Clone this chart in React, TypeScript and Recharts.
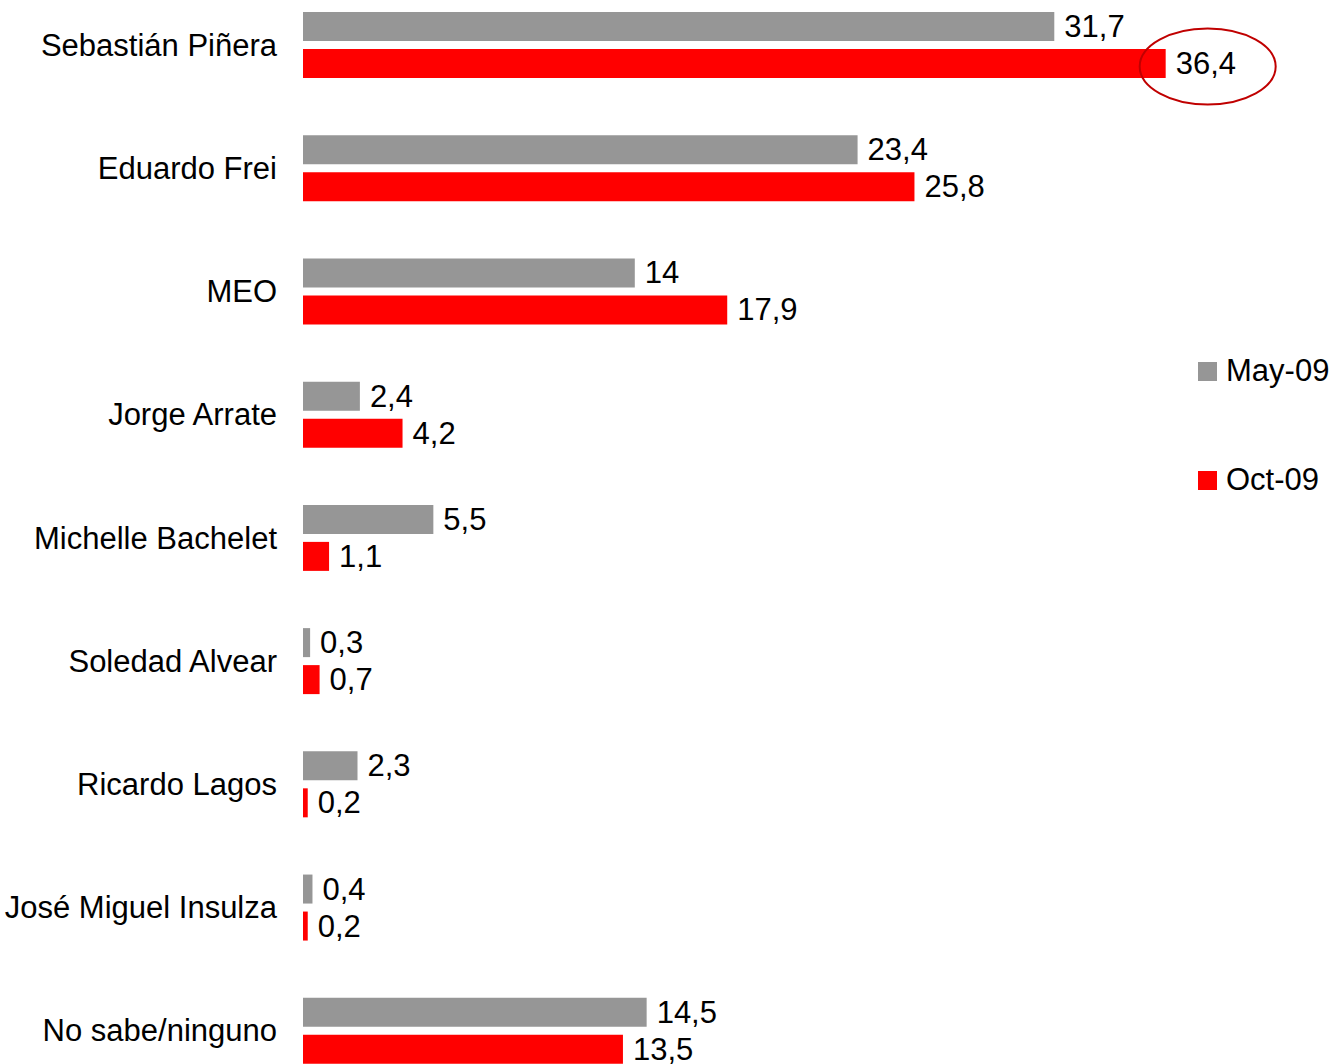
import React from "react";
import { BarChart, Bar, XAxis, YAxis, LabelList } from "recharts";

// candidatos (de arriba hacia abajo)
const categories = [
  "Sebastián Piñera",
  "Eduardo Frei",
  "MEO",
  "Jorge Arrate",
  "Michelle Bachelet",
  "Soledad Alvear",
  "Ricardo Lagos",
  "José Miguel Insulza",
  "No sabe/ninguno",
];

const may09 = [31.7, 23.4, 14, 2.4, 5.5, 0.3, 2.3, 0.4, 14.5];
const oct09 = [36.4, 25.8, 17.9, 4.2, 1.1, 0.7, 0.2, 0.2, 13.5];

const seriesNames = ["May-09", "Oct-09"];
const seriesColors = ["#969696", "#ff0000"];

// fila con el valor destacado (elipse)
const HIGHLIGHT_INDEX = 0;

const FONT = '"Liberation Sans", Arial, sans-serif';
const FS = 31;

const data = categories.map((name, i) => ({
  name,
  may: may09[i],
  oct: oct09[i],
}));

const fmt = (v: any) => String(v).replace(".", ",");

const ValueLabel = (props: any) => {
  const { x, y, width, height, value, index, highlight } = props;
  const tx = Number(x) + Number(width) + 10;
  const ty = Number(y) + Number(height) / 2;
  return (
    <g>
      <text
        x={tx}
        y={ty}
        dominantBaseline="central"
        fontSize={FS}
        fontFamily={FONT}
        fill="#000"
      >
        {fmt(value)}
      </text>
      {highlight && index === HIGHLIGHT_INDEX && (
        <ellipse
          cx={tx + 32}
          cy={ty + 3}
          rx={68}
          ry={38}
          fill="none"
          stroke="#c00000"
          strokeWidth={2}
        />
      )}
    </g>
  );
};

export default function App() {
  return (
    <div
      style={{
        position: "fixed",
        top: 0,
        left: 0,
        width: 1331,
        height: 1064,
        overflow: "hidden",
        background: "#fff",
      }}
    >
      <div style={{ position: "absolute", top: -17, left: 0 }}>
        <BarChart
          width={1331}
          height={1109}
          data={data}
          layout="vertical"
          margin={{ top: 0, right: 80, bottom: 0, left: 0 }}
          barSize={29}
          barGap={8}
        >
          <XAxis type="number" domain={[0, 40]} hide />
          <YAxis
            type="category"
            dataKey="name"
            width={303}
            axisLine={false}
            tickLine={false}
            tickSize={0}
            tickMargin={26}
            interval={0}
            tick={{ fontSize: FS, fill: "#000", fontFamily: FONT }}
          />
          <Bar
            dataKey="may"
            name={seriesNames[0]}
            fill={seriesColors[0]}
            isAnimationActive={false}
          >
            <LabelList dataKey="may" content={<ValueLabel />} />
          </Bar>
          <Bar
            dataKey="oct"
            name={seriesNames[1]}
            fill={seriesColors[1]}
            isAnimationActive={false}
          >
            <LabelList dataKey="oct" content={<ValueLabel highlight />} />
          </Bar>
        </BarChart>
      </div>

      {/* leyenda */}
      <div
        style={{
          position: "absolute",
          left: 1198,
          top: 353,
          fontFamily: FONT,
        }}
      >
        {seriesNames.map((n, i) => (
          <div
            key={n}
            style={{
              display: "flex",
              alignItems: "center",
              height: 36,
              marginBottom: i === 0 ? 73 : 0,
            }}
          >
            <span
              style={{
                width: 19,
                height: 19,
                background: seriesColors[i],
                marginRight: 9,
                display: "inline-block",
              }}
            />
            <span style={{ fontSize: FS, color: "#000", whiteSpace: "nowrap" }}>
              {n}
            </span>
          </div>
        ))}
      </div>
    </div>
  );
}
